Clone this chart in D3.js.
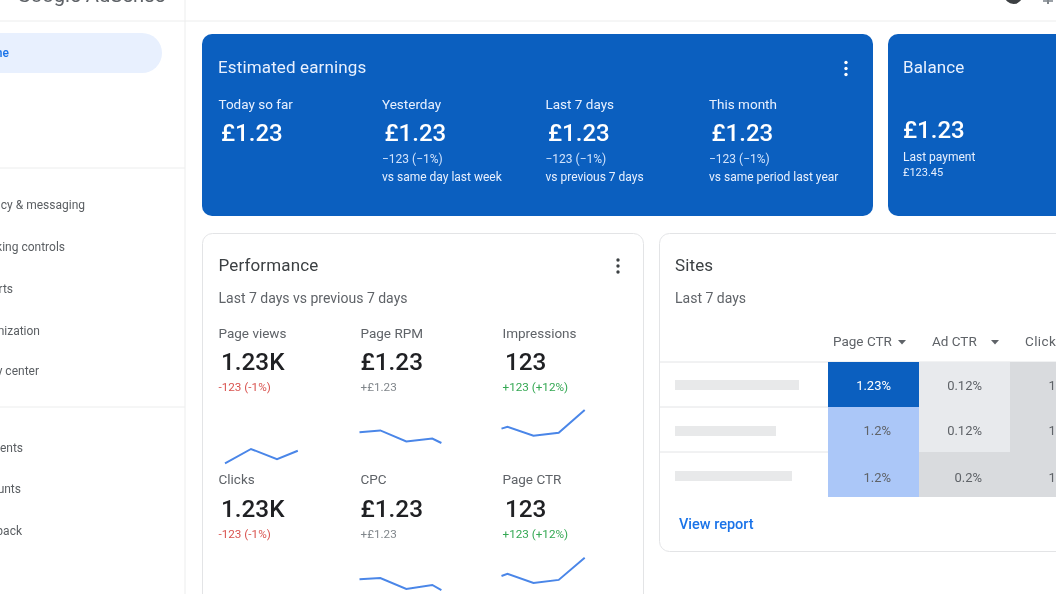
<!DOCTYPE html>
<html>
<head>
<meta charset="utf-8">
<script src="https://cdnjs.cloudflare.com/ajax/libs/d3/7.8.5/d3.min.js"></script>
<style>
  html, body { margin: 0; padding: 0; background: #fff; overflow: hidden; }
  svg { display: block; filter: blur(0.3px); }
  text { font-family: Roboto, sans-serif; }
  .title { letter-spacing: 0.14px; }
</style>
</head>
<body>
<svg id="chart" width="1056" height="594"></svg>
<script>
const width = 1056, height = 594

const BLUE = '#0b5fbf'
const GREY = '#5f6368'

// earnings card
const earningLabels = ['Today so far', 'Yesterday', 'Last 7 days', 'This month']
const earningValues = ['£1.23', '£1.23', '£1.23', '£1.23']
const earningDeltas = ['', '−123 (−1%)', '−123 (−1%)', '−123 (−1%)']
const earningNotes = ['', 'vs same day last week', 'vs previous 7 days', 'vs same period last year']

// performance small multiples
const metricNames = ['Page views', 'Page RPM', 'Impressions', 'Clicks', 'CPC', 'Page CTR']
const metricValues = ['1.23K', '£1.23', '123', '1.23K', '£1.23', '123']
const metricDeltas = ['-123 (-1%)', '+£1.23', '+123 (+12%)', '-123 (-1%)', '+£1.23', '+123 (+12%)']
const deltaColors = ['#d9534f', '#80868b', '#34a853', '#d9534f', '#80868b', '#34a853']

// sparklines (day position, value 0-100)
const sparkDays = [
  [0, 1, 2, 2.8],
  [0, 0.8, 1.8, 2.8, 3.15],
  [0, 0.23, 1.23, 2.2, 3.2],
  [],
  [0, 0.8, 1.8, 2.8, 3.15],
  [0, 0.23, 1.23, 2.2, 3.2]
]
const sparkValues = [
  [11, 35, 18, 32],
  [63, 66, 47.5, 52.5, 45],
  [69, 72, 57, 62, 100],
  [],
  [62, 64, 46, 52.5, 44],
  [67.5, 71, 56, 61, 98]
]

// sites table
const siteColumns = ['Page CTR', 'Ad CTR', 'Clicks']
const siteRows = ['a', 'b', 'c']
const siteBarLengths = [124, 101, 117]
const pageCtr = ['1.23%', '1.2%', '1.2%']
const adCtr = ['0.12%', '0.12%', '0.2%']
const clickCells = ['1.2%', '1.2%', '1.2%']
const pageCtrFill = ['#0b5fbf', '#abc7f8', '#abc7f8']
const adCtrFill = ['#e8eaed', '#e8eaed', '#d9dbde']
const clickFill = ['#d9dbde', '#d9dbde', '#d9dbde']

// sidebar, cut off on the left like the screenshot
const navTop = ['cy & messaging', 'king controls', 'rts', 'nization', 'y center']
const navTopY = [205, 247, 289, 331, 371]
const navTopEnd = [85, 65, 13, 40, 39]
const navBottom = ['ents', 'unts', 'back']
const navBottomY = [448, 489, 531]
const navBottomEnd = [23, 21, 22]

const svg = d3.select('#chart')

const label = (g, x, y, str, size, fill, weight) => g.append('text')
    .attr('x', x)
    .attr('y', y)
    .attr('font-size', size)
    .attr('font-weight', weight || 400)
    .attr('fill', fill)
    .text(str)

const dots = (g, x, y, fill) => {
    g.selectAll(null)
        .data([-6, 0, 6])
        .enter()
        .append('circle')
            .attr('cx', x)
            .attr('cy', d => y + d)
            .attr('r', 1.7)
            .attr('fill', fill)
}

const card = (x, y, w, h, fill, stroke) => svg.append('rect')
    .attr('x', x)
    .attr('y', y)
    .attr('width', w)
    .attr('height', h)
    .attr('rx', 10)
    .attr('fill', fill)
    .attr('stroke', stroke || 'none')

// header + sidebar
svg.append('line').attr('x1', 0).attr('x2', width).attr('y1', 21).attr('y2', 21).attr('stroke', '#eceded')
svg.append('line').attr('x1', 185).attr('x2', 185).attr('y1', 0).attr('y2', height).attr('stroke', '#eceded')
label(svg, 17, 2, 'Google AdSense', 20.2, GREY)
svg.append('rect').attr('x', -40).attr('y', 33).attr('width', 202).attr('height', 40).attr('rx', 20).attr('fill', '#e8f0fe')
label(svg, 9, 57, 'Home', 12, '#1a73e8', 500).attr('text-anchor', 'end')
svg.append('circle').attr('cx', 1013.5).attr('cy', -5).attr('r', 9).attr('fill', '#3c4043')
svg.append('rect').attr('x', 1043).attr('y', 0).attr('width', 10).attr('height', 2).attr('fill', '#9aa0a6')
svg.append('rect').attr('x', 1047).attr('y', 0).attr('width', 2).attr('height', 4).attr('fill', '#80868b')

svg.append('line').attr('x1', 0).attr('x2', 185).attr('y1', 168).attr('y2', 168).attr('stroke', '#eceded')
svg.append('line').attr('x1', 0).attr('x2', 185).attr('y1', 407).attr('y2', 407).attr('stroke', '#eceded')
navTop.forEach((d, i) => label(svg, navTopEnd[i], navTopY[i] + 4, d, 12, '#5a5e62').attr('text-anchor', 'end'))
navBottom.forEach((d, i) => label(svg, navBottomEnd[i], navBottomY[i] + 4, d, 12, '#5a5e62').attr('text-anchor', 'end'))

// earnings card
card(202, 34, 671, 182, BLUE)
label(svg, 218, 72.5, 'Estimated earnings', 17, '#e8f0fe').attr('class', 'title')
dots(svg, 846, 68.5, '#fff')

const earningX = d3.scalePoint()
    .domain(earningLabels)
    .range([218.5, 709])

const earnings = svg.selectAll('.earning')
    .data(earningLabels)
    .enter()
    .append('g')
        .attr('class', 'earning')
        .attr('transform', d => `translate(${earningX(d)}, 0)`)

earnings.append('text')
    .attr('y', 109)
    .attr('font-size', 13.5)
    .attr('fill', '#e8f0fe')
    .text(d => d)
earnings.append('text')
    .attr('x', 2.5)
    .attr('y', 141)
    .attr('font-size', 24)
    .attr('font-weight', 500)
    .attr('fill', '#fff')
    .text((d, i) => earningValues[i])
earnings.append('text')
    .attr('y', 163)
    .attr('font-size', 12)
    .attr('fill', '#d2e3fc')
    .text((d, i) => earningDeltas[i])
earnings.append('text')
    .attr('y', 181)
    .attr('font-size', 12)
    .attr('fill', '#e8f0fe')
    .text((d, i) => earningNotes[i])

// balance card
card(888, 34, 200, 182, BLUE)
label(svg, 903, 72.5, 'Balance', 17, '#e8f0fe').attr('class', 'title')
label(svg, 903, 138, '£1.23', 24, '#fff', 500)
label(svg, 903, 161, 'Last payment', 12, '#e8f0fe')
label(svg, 903, 176, '£123.45', 11, '#e8f0fe')

// performance card
card(202.5, 233.5, 441, 400, '#fff', '#e3e4e6')
label(svg, 218.5, 270.5, 'Performance', 17, '#3c4043').attr('class', 'title')
label(svg, 218.5, 302.5, 'Last 7 days vs previous 7 days', 14, GREY)
dots(svg, 618, 266, '#3c4043')

const colX = d3.scalePoint().domain([0, 1, 2]).range([218.5, 502.5])
const rowY = d3.scalePoint().domain([0, 1]).range([0, 146.5])

const metrics = svg.selectAll('.metric')
    .data(metricNames)
    .enter()
    .append('g')
        .attr('class', 'metric')
        .attr('transform', (d, i) => `translate(${colX(i % 3)}, ${rowY(Math.floor(i / 3))})`)

metrics.append('text')
    .attr('y', 337.5)
    .attr('font-size', 13.5)
    .attr('fill', GREY)
    .text(d => d)
metrics.append('text')
    .attr('x', (d, i) => metricValues[i][0] === '£' ? 0 : 2.5)
    .attr('y', 370)
    .attr('font-size', 24.3)
    .attr('font-weight', 500)
    .attr('fill', '#202124')
    .text((d, i) => metricValues[i])
metrics.append('text')
    .attr('y', 391)
    .attr('font-size', 11.7)
    .attr('fill', (d, i) => deltaColors[i])
    .text((d, i) => metricDeltas[i])

const sparkX = d3.scaleLinear().domain([0, 3.25]).range([0, 84.5])
const sparkY = d3.scaleLinear().domain([0, 100]).range([470, 410])
const sparkLine = d3.line()
    .x(d => sparkX(d[0]))
    .y(d => sparkY(d[1]))

metrics.append('path')
    .attr('transform', (d, i) => `translate(${[6.5, -1, -1, 0, -1, -1][i]}, 0)`)
    .attr('d', (d, i) => sparkLine(d3.zip(sparkDays[i], sparkValues[i])))
    .attr('fill', 'none')
    .attr('stroke', '#4a86e8')
    .attr('stroke-width', 2)

// sites card
card(659.5, 233.5, 460, 318, '#fff', '#e3e4e6')
label(svg, 675, 270.5, 'Sites', 17, '#3c4043').attr('class', 'title')
label(svg, 675, 302.5, 'Last 7 days', 14, GREY)

const tableX = d3.scaleBand().domain(siteColumns).range([828, 1101])
const tableY = d3.scaleBand().domain(siteRows).range([362, 497])

svg.selectAll('.rowline')
    .data(siteRows)
    .enter()
    .append('line')
        .attr('class', 'rowline')
        .attr('x1', 660)
        .attr('x2', width)
        .attr('y1', d => tableY(d))
        .attr('y2', d => tableY(d))
        .attr('stroke', '#e3e4e6')

const headerX = [833, 932, 1025]
siteColumns.forEach((c, i) => {
    label(svg, headerX[i], 346, c, 13.5, GREY).attr('letter-spacing', i === 2 ? 0.4 : 0)
})
// sort carets
const caretX = [902, 995]
svg.selectAll('.caret')
    .data(caretX)
    .enter()
    .append('path')
        .attr('class', 'caret')
        .attr('d', d => `M${d - 4},340 L${d + 4},340 L${d},344.5 Z`)
        .attr('fill', GREY)

svg.selectAll('.sitebar')
    .data(siteRows)
    .enter()
    .append('rect')
        .attr('class', 'sitebar')
        .attr('x', 675)
        .attr('y', (d, i) => tableY(d) + (i === 0 ? 18 : 19))
        .attr('width', (d, i) => siteBarLengths[i])
        .attr('height', 10)
        .attr('fill', '#e8e9ea')

const tableCols = [
    { key: 'Page CTR', text: pageCtr, fill: pageCtrFill, end: 63 },
    { key: 'Ad CTR', text: adCtr, fill: adCtrFill, end: 63 },
    { key: 'Clicks', text: clickCells, fill: clickFill, end: 66 }
]
tableCols.forEach(col => {
    const g = svg.append('g')
    g.selectAll('rect')
        .data(siteRows)
        .enter()
        .append('rect')
            .attr('x', tableX(col.key))
            .attr('y', d => tableY(d))
            .attr('width', tableX.bandwidth())
            .attr('height', tableY.bandwidth())
            .attr('fill', (d, i) => col.fill[i])
    g.selectAll('text')
        .data(siteRows)
        .enter()
        .append('text')
            .attr('x', tableX(col.key) + col.end)
            .attr('y', (d, i) => tableY(d) + [28, 28, 29.5][i])
            .attr('text-anchor', 'end')
            .attr('font-size', 13)
            .attr('fill', (d, i) => col.fill[i] === BLUE ? '#fff' : GREY)
            .text((d, i) => col.text[i])
})

label(svg, 679, 528.5, 'View report', 14.5, '#1a73e8', 500)
</script>
</body>
</html>
